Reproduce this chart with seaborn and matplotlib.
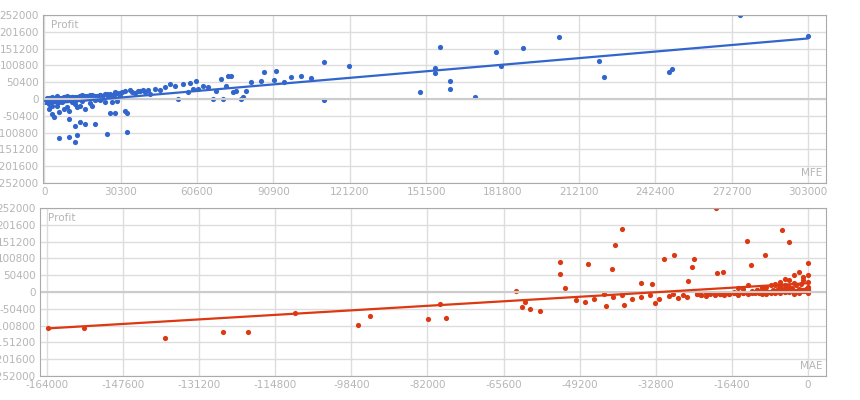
import matplotlib
matplotlib.use("Agg")
import matplotlib.pyplot as plt
import seaborn as sns
import numpy as np

# Top panel: MFE vs Profit (values in thousands)
mfe_x = [1,2,2,3,4,5,6,7,8,9,10,11,12,13,14,15,16,17,18,19,20,21,22,24,25,26,28,29,30,
         3,5,7,9,11,13,15,18,20,23,27,6,8,10,12,14,1,2,4,3,5,7,9,12,16,19,22,
         1,1,2,2,3,3,4,4,5,5,6,6,7,7,8,8,9,9,10,10,11,11,12,12,13,13,14,14,15,15,16,17,18,19,
         0.5,1.5,2.5,3.5,4.5,5.5,6.5,7.5,8.5,9.5,10.5,11.5,12.5,13.5,14.5,15.5,16.5,17.5,18.5,19.5,
         21,22,23,24,25,26,27,28,29,30,31,35,37,39,41,
         6,10,12,13,14,16,20,25,33,32,33,26,28,
         32,34,36,38,40,42,44,46,48,50,52,53,55,57,58,59,60,61,63,65,67,68,70,71,72,73,74,75,76,
         78,79,80,82,86,87,91,92,95,98,102,106,111,111,121,157,155,155,161,161,149,171,179,181,
         190,204,220,222,248,249,276,303]
mfe_y = [-5,-15,-30,-45,-55,-20,-10,0,5,-25,-35,5,-15,0,10,-5,-30,5,10,-20,8,0,12,-10,15,5,20,-5,10,
         5,8,-8,10,-10,-25,12,-12,-2,3,-8,-40,-30,-60,-80,-20,2,-8,-3,-20,-10,3,0,-5,2,7,-2,
         0,-3,2,-5,1,-2,3,-4,2,-1,4,0,3,-2,5,1,4,-3,6,2,5,0,7,-1,6,2,8,3,9,4,8,10,11,12,
         -2,0,1,-1,2,0,3,1,4,2,3,5,4,6,5,7,6,8,9,10,
         10,12,8,14,11,15,13,16,18,17,20,22,24,26,28,
         -118,-115,-130,-108,-70,-75,-75,-105,-98,-35,-42,-42,-42,
         25,28,18,25,20,15,30,28,35,45,40,0,45,20,48,30,55,30,40,35,0,25,60,0,38,68,70,20,25,
         0,5,25,50,55,80,58,85,50,66,69,63,111,-3,99,156,93,78,54,30,21,6,141,99,
         153,186,114,66,81,90,252,189]

# Bottom panel: MAE vs Profit (values in thousands)
mae_x = [-163.8,-156,-138.6,-126,-120.7,-110.5,-97,-94.4,-81.9,-79.3,-78,
         -63,-61.6,-61,-60,-57.8,-53.4,-53.4,-52.4,-47.4,-43.5,-42.3,-41.6,-40.1,-39.7,-36,-33.6,-33,
         -31,-28.9,-25.9,-25,-24.6,-19.8,-19.6,-18.3,-13.1,-12.3,-9.3,-5.6,-4.1,0,
         -50,-48,-46,-44,-42,-40,-38,-36,-34,-32,-30,-29,-28,-27,-26,-24,-23,-22,-21,-20,-19,-18,
         -17,-16,-15,-14,-13,-12,-11.5,-11,-10.5,-10,-9.5,-9,-8.5,-8,-7.5,-7,-6.5,-6,-5.5,-5,-4.5,
         -4,-3.5,-3,-2.5,-2,-1.5,-1,-0.5,0,-9,-8,-7,-6,-5,-4,-3,-2,-1,0,-7,-6,-5,-4,-3,-2,-1,0,
         -15,-14,-13,-12,-11,-10,-3,-2,-1,0,-16,-12,-8,-6,-4,-2,0,
         -24,-22,-20,-18,-16,-14,-12,-10,-8,-6,-4,-2,-1,-0.5,
         -23,-21,-19,-17,-15,-13,-11,-9,-7,-5,-3,-1.5,-0.8,-0.3,
         -10,-9,-8,-7,-6,-5,-4,-3,-2.5,-1.8,-1.2,-0.6,-0.2,0]
mae_y = [-108,-108,-138,-120,-120,-63,-99,-72,-81,-36,-78,
         3,-45,-30,-51,-57,90,54,12,84,-42,69,141,189,-39,27,24,-33,
         99,111,33,75,100,252,57,60,154,81,111,186,150,87,
         -25,-30,-20,-5,-15,-10,-20,-15,-10,-20,-12,-5,-18,-8,-15,-5,-10,-12,-3,-8,-5,-10,
         -6,-3,-8,-2,-5,0,-4,5,-3,10,-2,15,0,20,5,25,8,30,10,40,15,
         35,12,50,20,60,25,45,10,30,2,0,2,5,8,3,-2,0,6,15,20,18,22,14,28,10,35,50,
         12,8,20,-2,5,15,-5,-3,2,-2,1,4,0,-4,2,-1,5,
         -5,-4,-6,-3,-2,-4,-1,0,1,2,3,4,5,6,
         -8,-7,-5,-6,-3,-2,-1,0,2,1,3,5,4,7,
         -6,-5,-4,-2,-1,0,1,2,3,4,5,6,8,10]

blue = "#3366cc"
red = "#dc3912"
grey_txt = "#b5b5b5"

sns.set_style("white")
fig = plt.figure(figsize=(8.6, 4.0), dpi=100)
ax1 = fig.add_axes([43/860, 1-183/400, 783/860, 168/400])
ax2 = fig.add_axes([40/860, 1-376/400, 786/860, 168/400])

yt = np.arange(-252000, 252001, 50400)

def style(ax, xt, xlim, tag):
    ax.set_ylim(-252000, 252000)
    ax.set_xlim(*xlim)
    ax.set_yticks(yt)
    ax.set_yticklabels([str(int(v)) for v in yt])
    ax.set_xticks(xt)
    ax.set_xticklabels([str(int(v)) for v in xt])
    ax.tick_params(colors=grey_txt, labelsize=7.5, length=0, pad=3)
    ax.grid(True, color="#dddddd", lw=1)
    ax.axhline(0, color="#cccccc", lw=1.5, zorder=1)
    for s in ax.spines.values():
        s.set_color("#aaaaaa")
    ax.set_axisbelow(True)
    ax.set_xlabel(""); ax.set_ylabel("")
    ax.text(0.01, 0.97, "Profit", transform=ax.transAxes, color=grey_txt, fontsize=7.5, va="top")
    ax.text(0.995, 0.03, tag, transform=ax.transAxes, color=grey_txt, fontsize=7.5, ha="right", va="bottom")

x1 = np.array(mfe_x) * 1000; y1 = np.array(mfe_y) * 1000
x2 = np.array(mae_x) * 1000; y2 = np.array(mae_y) * 1000
sns.regplot(x=x1, y=y1, ax=ax1, ci=None, color=blue,
            scatter_kws=dict(s=14, alpha=1, linewidths=0), line_kws=dict(lw=1.6))
sns.regplot(x=x2, y=y2, ax=ax2, ci=None, color=red,
            scatter_kws=dict(s=14, alpha=1, linewidths=0), line_kws=dict(lw=1.6))

style(ax1, np.arange(0, 303001, 30300), (-500, 310100), "MFE")
style(ax2, np.arange(-164000, 1, 16400), (-165500, 3900), "MAE")

fig.savefig("out.png", dpi=100)
